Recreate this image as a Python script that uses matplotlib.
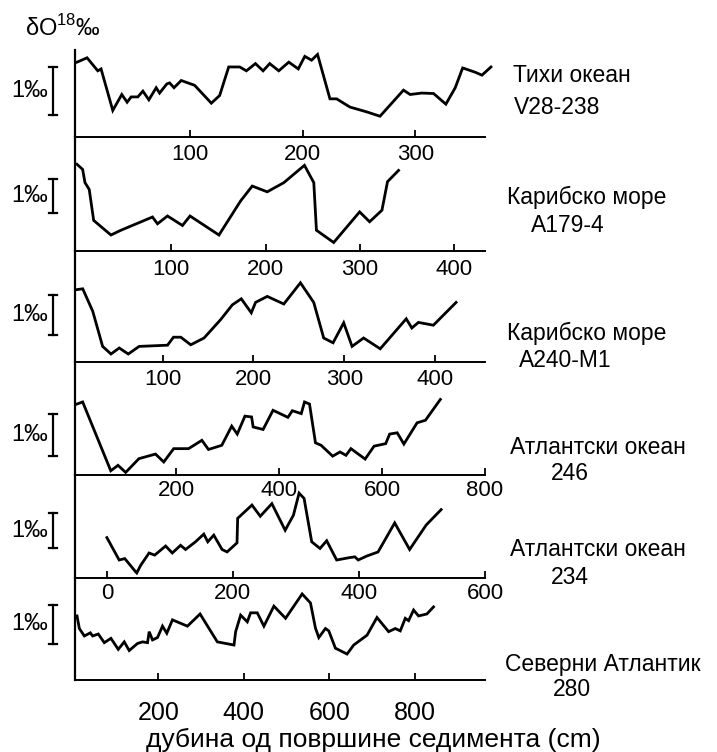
import matplotlib
matplotlib.use("Agg")
import matplotlib.pyplot as plt
from matplotlib import transforms

plt.rcParams['font.family'] = ['Liberation Sans', 'DejaVu Sans']
plt.rcParams['mathtext.fontset'] = 'custom'
plt.rcParams['mathtext.rm'] = 'Liberation Sans'

W, H = 717, 752

# ---- podaci (dubina u cm, delta O18 u promilima, relativno) ----
depth_v28 = [0, 8.9, 18.4, 21.3, 31.7, 39.7, 44.4, 48, 53.9, 58.4, 63.7, 70.2, 73.2, 79.7, 82.1,
             86, 92.4, 104.3, 119.1, 126.5, 134.5, 144.3, 150.2, 158.2, 165, 170.9, 178.9, 187.8,
             196.2, 202, 208, 213.3, 224.3, 230.2, 242, 256.9, 268.7, 289.5, 295.4, 305.8, 316.2,
             327.1, 335.4, 342, 353.2, 359.1, 367.1]
d18o_v28 = [1.55, 1.64, 1.37, 1.41, 0.55, 0.88, 0.72, 0.83, 0.83, 0.95, 0.77, 1.02, 0.91, 1.10, 1.12,
            1.02, 1.17, 1.07, 0.70, 0.86, 1.45, 1.45, 1.37, 1.52, 1.37, 1.52, 1.37, 1.55,
            1.41, 1.67, 1.59, 1.71, 0.79, 0.79, 0.62, 0.52, 0.43, 0.97, 0.88, 0.91, 0.90,
            0.68, 1.02, 1.43, 1.34, 1.28, 1.45]

depth_a179 = [0, 6, 8.5, 13, 17.7, 36, 46.6, 80.1, 85.4, 96, 111.9, 119.9, 150.6, 173.5, 185.9,
              201.8, 219.4, 241.3, 251.2, 254, 272.3, 299.8, 310.4, 323.5, 329.4, 341.1]
d18o_a179 = [2.55, 2.40, 2.01, 1.81, 0.90, 0.47, 0.61, 1.00, 0.80, 1.03, 0.75, 1.03, 0.47, 1.47, 1.91,
             1.74, 2.01, 2.52, 2.01, 0.61, 0.25, 1.15, 0.86, 1.20, 2.04, 2.37]

depth_a240 = [5.9, 12.2, 23.2, 34.1, 43.3, 52.4, 62.3, 74.3, 105.5, 112.1, 120.1, 131.1, 145.7, 164.0,
              176.9, 186.7, 197.7, 202.4, 215.3, 233.5, 251.8, 266.4, 277.4, 287.7, 299.4, 308.6,
              321.3, 339.6, 368.2, 374.4, 381.6, 398.1, 423.1]
d18o_a240 = [1.81, 1.83, 1.27, 0.39, 0.20, 0.35, 0.20, 0.39, 0.42, 0.62, 0.62, 0.43, 0.60, 1.06,
             1.43, 1.58, 1.23, 1.49, 1.64, 1.45, 1.98, 1.49, 0.60, 0.48, 0.98, 0.39,
             0.60, 0.33, 1.08, 0.85, 0.99, 0.92, 1.49]

depth_246 = [7.0, 18.0, 72.6, 86.7, 101.6, 127.3, 159.6, 175.6, 194.9, 223.9, 249.7, 262.5, 288.4,
             307.7, 318.5, 333.4, 346.3, 349.4, 368.7, 388.0, 417.0, 425.5, 442.9, 449.2, 458.9,
             470.5, 481.5, 503.9, 518.2, 529.8, 539.4, 567.0, 584.4, 607.0, 614.7, 629.4, 642.3,
             668.0, 684.2, 713.2]
d18o_246 = [1.69, 1.74, 0.09, 0.22, 0.05, 0.38, 0.49, 0.30, 0.62, 0.62, 0.82, 0.60, 0.70,
            1.16, 0.97, 1.40, 1.38, 1.14, 1.08, 1.54, 1.37, 1.53, 1.46, 1.74, 1.69,
            0.76, 0.70, 0.44, 0.54, 0.46, 0.62, 0.37, 0.68, 0.74, 0.97, 1.00, 0.73,
            1.24, 1.30, 1.80]

depth_234 = [0, 19.5, 28.4, 45.8, 47.4, 53.7, 66.9, 75.9, 93.2, 103.8, 116.9, 124.8, 140.6, 153.8,
             160.1, 169.6, 182.8, 190.7, 206.5, 207.5, 230.2, 243.4, 261.8, 282.9, 296.0, 305.0,
             312.9, 325.0, 338.2, 348.8, 364.6, 385.6, 393.5, 398.8, 412.0, 430.3, 456.7, 480.4,
             506.7, 530.4]
d18o_234 = [1.14, 0.50, 0.54, 0.16, 0.13, 0.35, 0.70, 0.64, 0.90, 0.70, 0.92, 0.80, 1.02, 1.24,
            1.02, 1.21, 0.80, 0.73, 0.99, 1.69, 2.07, 1.75, 2.11, 1.35, 1.78, 2.41,
            2.26, 1.02, 0.83, 1.05, 0.50, 0.57, 0.59, 0.50, 0.61, 0.73, 1.56, 0.80,
            1.50, 1.94]

depth_280 = [9.1, 14.6, 26.3, 40.3, 45.7, 59.0, 73.0, 88.6, 105.7, 119.8, 131.4, 150.9, 162.6, 174.3,
             178.2, 186.0, 197.7, 209.4, 219.5, 232.7, 267.8, 297.4, 337.9, 376.9, 380.8, 392.5,
             408.1, 415.8, 431.4, 447.0, 470.4, 497.7, 536.6, 556.1, 567.8, 575.6, 591.2, 599.0,
             614.5, 641.8, 657.4, 688.6, 711.9, 739.2, 754.8, 766.5, 778.2, 786.0, 797.7, 809.3,
             828.8, 844.4]
d18o_280 = [1.63, 1.31, 1.12, 1.20, 1.12, 1.17, 0.95, 1.06, 0.78, 0.97, 0.75, 0.93, 0.97, 0.95,
            1.23, 1.02, 1.08, 1.37, 1.19, 1.53, 1.37, 1.68, 0.97, 0.89, 1.23, 1.65,
            1.48, 1.71, 1.71, 1.37, 1.88, 1.57, 2.19, 1.96, 1.32, 1.08, 1.31, 1.25,
            0.81, 0.66, 0.89, 1.14, 1.59, 1.23, 1.31, 1.25, 1.57, 1.51, 1.78, 1.63,
            1.68, 1.86]

titles = [("Тихи океан", "V28-238"), ("Карибско море", "A179-4"), ("Карибско море", "A240-M1"),
          ("Атлантски океан", "246"), ("Атлантски океан", "234"), ("Северни Атлантик", "280")]
xticks = [[100, 200, 300], [100, 200, 300, 400], [100, 200, 300, 400],
          [200, 400, 600, 800], [0, 200, 400, 600], [200, 400, 600, 800]]
series = [(depth_v28, d18o_v28), (depth_a179, d18o_a179), (depth_a240, d18o_a240),
          (depth_246, d18o_246), (depth_234, d18o_234), (depth_280, d18o_280)]

# ---- raspored (pikseli slike) ----
tops = [50, 137, 251, 362, 474.5, 577.5]
bottoms = [137, 251, 362, 474.5, 577.5, 680]
xlims = [(-1.8, 361.8), (-2.1, 432.8), (3.7, 454.9), (3.1, 796.8), (-50.6, 598.9), (4.4, 965)]
px_per_permil = [48.3, 34, 40, 41.7, 35, 39.3]
bar_bottom = [0.455, 1.12, 0.675, 0.44, 0.84, 0.92]
title_y = [(75, 108), (197, 225), (333, 360), (448, 473), (550, 577), (665, 690)]
title_x = [(572, 557), (587, 568), (587, 565), (598, 570), (598, 570), (603, 572)]
label_pad = [5, 5.5, 5, 4, 4, 15]
tick_fs = [16, 16, 16, 16, 16, 18]


def fx(px):
    return px / W


def fy(py):
    return 1 - py / H


fig = plt.figure(figsize=(W / 100, H / 100), dpi=100)

for i in range(6):
    x, y = series[i]
    ax = fig.add_axes([fx(75), fy(bottoms[i]), fx(485) - fx(75), (bottoms[i] - tops[i]) / H])
    ax.patch.set_alpha(0)
    ax.plot(x, y, color='black', lw=2.0, clip_on=False, solid_joinstyle='miter')
    ax.set_xlim(*xlims[i])
    ax.set_ylim(0, (bottoms[i] - tops[i]) / px_per_permil[i])
    for s in ['top', 'right']:
        ax.spines[s].set_visible(False)
    ax.spines['left'].set_linewidth(1.6)
    ax.spines['bottom'].set_linewidth(1.4)
    ax.set_yticks([])
    ax.set_xticks(xticks[i])
    ax.tick_params(axis='x', direction='in', length=5, width=1.3,
                   pad=label_pad[i], labelsize=tick_fs[i])

    # skala 1 promil
    trans = transforms.blended_transform_factory(fig.transFigure, ax.transData)
    b = bar_bottom[i]
    ax.plot([fx(53), fx(53)], [b, b + 1], transform=trans, color='black', lw=1.6, clip_on=False)
    ax.plot([fx(49), fx(57)], [b, b], transform=trans, color='black', lw=1.6, clip_on=False)
    ax.plot([fx(49), fx(57)], [b + 1, b + 1], transform=trans, color='black', lw=1.6, clip_on=False)
    ax.text(fx(48), b + 0.5, "1‰", transform=trans, ha='right', va='center', fontsize=17)

    # naziv jezgra
    fig.text(fx(title_x[i][0]), fy(title_y[i][0]), titles[i][0], ha='center', va='center', fontsize=16.5)
    fig.text(fx(title_x[i][1]), fy(title_y[i][1]), titles[i][1], ha='center', va='center', fontsize=16.5)

fig.text(fx(25), fy(36), "δO$^{18}$‰", ha='left', va='baseline', fontsize=17)
fig.text(fx(373), fy(740), "дубина од површине седимента (cm)", ha='center', va='center', fontsize=19)

fig.savefig("out.png", dpi=100)
